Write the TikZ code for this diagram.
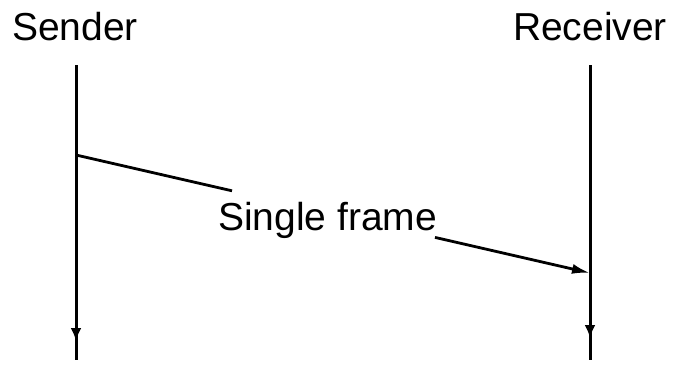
\documentclass[tikz,border=0pt]{standalone}
\usepackage{fontspec}
\setmainfont{Liberation Sans}
\usetikzlibrary{arrows.meta}
\begin{document}
\begin{tikzpicture}[x=1pt,y=-1pt,
  lbl/.style={font=\fontsize{39}{44}\selectfont, inner sep=0pt},
  life/.style={line width=3pt},
  tip/.style={line width=3pt, -{Latex[length=13pt,width=11pt]}},
  msg/.style={line width=2.8pt}]
\useasboundingbox (0,0) rectangle (678,365);
\node[lbl, anchor=base] (S) at (75,40) {Sender};
\node[lbl, anchor=base] (R) at (590,40) {Receiver};
\coordinate (st) at (76,65);
\coordinate (sm) at (76,320);
\coordinate (sa) at (76,341);
\coordinate (sb) at (76,360);
\coordinate (rt) at (590,65);
\coordinate (rm) at (590,317);
\coordinate (ra) at (590,338);
\coordinate (rb) at (590,360);
\draw[life] (st) -- (sb);
\draw[tip] (sm) -- (sa);
\draw[life] (rt) -- (rb);
\draw[tip] (rm) -- (ra);
\node[lbl, anchor=base west] (F) at (218,230) {Single frame};
\coordinate (a) at (76,155);
\coordinate (c1) at (232,190.8);
\coordinate (c2) at (435,237.4);
\coordinate (b) at (590,273);
\draw[msg] (a) -- (c1);
\draw[msg, -{Latex[length=18pt,width=10pt]}] (c2) -- (b);
\end{tikzpicture}
\end{document}
